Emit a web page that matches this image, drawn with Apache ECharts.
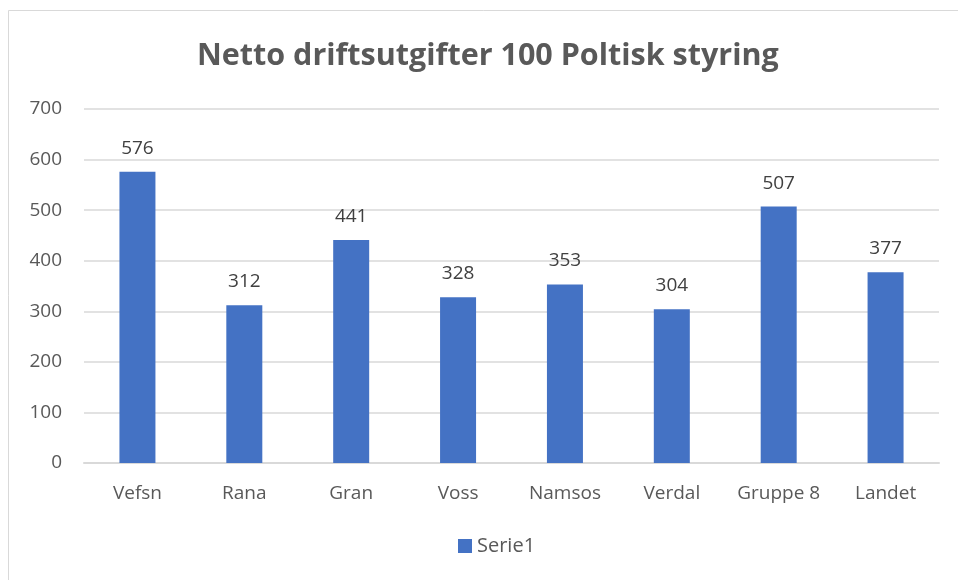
<!DOCTYPE html>
<html>
<head>
<meta charset="utf-8">
<script src="https://cdn.jsdelivr.net/npm/echarts@6/dist/echarts.min.js"></script>
<style>
  html, body { margin: 0; padding: 0; background: #fff; }
  #chart { width: 958px; height: 580px; }
</style>
</head>
<body>
<div id="chart"></div>
<script>
"use strict";

var categories = ['Vefsn', 'Rana', 'Gran', 'Voss', 'Namsos', 'Verdal', 'Gruppe 8', 'Landet'];
var serie1 = [576, 312, 441, 328, 353, 304, 507, 377];
var yTicks = [0, 700, 100];   // min, max, interval

var chart = echarts.init(document.getElementById('chart'));
var font = '"Open Sans", "Noto Sans", sans-serif';

var option = {
  backgroundColor: '#fff',
  animation: false,
  title: {
    text: 'Netto driftsutgifter 100 Poltisk styring',
    left: 192,
    top: 36,
    textStyle: { fontFamily: font, fontSize: 30.5, fontWeight: 'bold', color: '#595959' }
  },
  graphic: [{
    type: 'rect',
    shape: { x: 8.5, y: 10.5, width: 1000, height: 700 },
    style: { fill: 'none', stroke: '#d9d9d9', lineWidth: 1 },
    silent: true
  }],
  legend: {
    bottom: 19,
    left: 453,
    itemWidth: 14,
    itemHeight: 14,
    itemGap: 6,
    icon: 'rect',
    data: ['Serie1'],
    textStyle: { fontFamily: font, fontSize: 20, color: '#595959' }
  },
  grid: { left: 84, right: 19, top: 109, bottom: 117 },
  xAxis: {
    type: 'category',
    data: categories,
    axisLine: { lineStyle: { color: '#d9d9d9', width: 2 } },
    axisTick: { show: false },
    axisLabel: { interval: 0, fontFamily: font, fontSize: 19, color: '#595959', margin: 21 }
  },
  yAxis: {
    type: 'value',
    min: yTicks[0],
    max: yTicks[1],
    interval: yTicks[2],
    axisLine: { show: false },
    axisTick: { show: false },
    splitLine: { lineStyle: { color: '#d9d9d9', width: 1.5 } },
    axisLabel: { fontFamily: font, fontSize: 19, color: '#595959', margin: 22 }
  },
  series: [{
    name: 'Serie1',
    type: 'bar',
    data: serie1,
    barWidth: 36,
    itemStyle: { color: '#4472C4' },
    label: {
      show: true,
      position: 'top',
      distance: 14,
      fontFamily: font,
      fontSize: 19,
      color: '#404040'
    }
  }]
};

chart.setOption(option);
</script>
</body>
</html>
